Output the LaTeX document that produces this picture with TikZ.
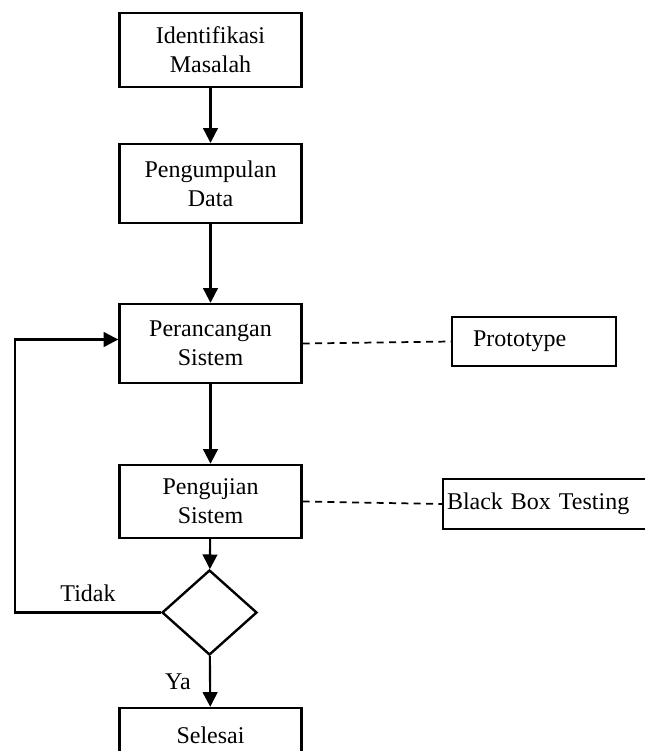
\documentclass[tikz,border=0pt]{standalone}
\usepackage{fontspec}
\setmainfont{Liberation Serif}
\usetikzlibrary{shapes.geometric,arrows.meta}

\begin{document}
\begin{tikzpicture}[x=0.75pt,y=-0.75pt,
  txt/.style={font=\fontsize{18}{21.75}\selectfont},
  stepbox/.style={draw, line width=1.8pt, rectangle, txt, align=center,
    minimum width=182*0.75pt, inner sep=0pt},
  sidebox/.style={draw, line width=1.8pt, rectangle, txt, align=left, inner ysep=0pt},
  decide/.style={draw, line width=1.8pt, diamond, minimum width=95*0.75pt,
    minimum height=85*0.75pt, inner sep=0pt},
  flow/.style={line width=1.6pt, -{Triangle[length=11pt,width=11pt]}},
  link/.style={line width=1.3pt, dash pattern=on 5.25pt off 4pt}
]
\useasboundingbox (0,0) rectangle (645,751);
\clip (0,0) rectangle (645,751);

% main process steps
\node[stepbox, minimum height=74*0.75pt] (ident) at (210.5,50) {Identifikasi\\Masalah};
\node[stepbox, minimum height=79*0.75pt] (data) at (210.5,183.5) {Pengumpulan\\Data};
\node[stepbox, minimum height=79*0.75pt] (design) at (210.5,343.5) {Perancangan\\Sistem};
\node[stepbox, minimum height=73*0.75pt] (test) at (210.5,501.5) {Pengujian\\Sistem};
\node[decide] (check) at (209.5,612.5) {};
\node[stepbox, minimum height=54*0.75pt] (done) at (210.5,735) {Selesai};

% methods attached to the steps
\node[sidebox, minimum height=49*0.75pt, text width=122*0.75pt, inner xsep=21*0.75pt]
  (proto) at (534,341.5) {Prototype};
\node[sidebox, minimum height=50*0.75pt, text width=209*0.75pt, inner xsep=4*0.75pt]
  (bbt) at (551.5,504) {Black Box Testing};

% flow arrows
\draw[flow] (ident) -- (data);
\draw[flow] (data) -- (design);
\draw[flow] (design) -- (test);
\draw[flow] (test) -- (check);
\draw[flow] (check) -- (done);
\draw[flow] (check.west) -- ++(-146,0) |- ([yshift=3pt]design.west);

% dashed links
\draw[link] (design.east) -- (proto.west);
\draw[link] (test.east) -- (bbt.west);

% decision labels
\node[txt] (no) at (88,593) {Tidak};
\node[txt] (yes) at (178,682) {Ya};
\end{tikzpicture}
\end{document}
